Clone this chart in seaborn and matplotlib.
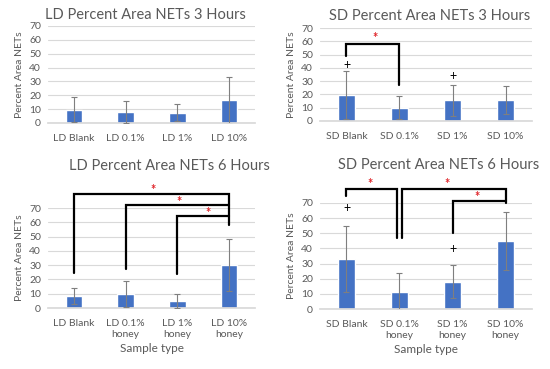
import pandas as pd
import matplotlib
matplotlib.use("Agg")
import matplotlib.pyplot as plt
import seaborn as sns

# values (mean, error)
ld3_labels = ["LD Blank", "LD 0.1%", "LD 1%", "LD 10%"]
ld3_mean = [9.5, 8, 7.5, 16.5]
ld3_err = [9, 8, 6, 17]

sd3_labels = ["SD Blank", "SD 0.1%", "SD 1%", "SD 10%"]
sd3_mean = [19.5, 10, 15.5, 15.5]
sd3_err = [18, 8.5, 11.5, 10.5]

ld6_labels = ["LD Blank", "LD 0.1%\nhoney", "LD 1%\nhoney", "LD 10%\nhoney"]
ld6_mean = [8.5, 10, 5, 30]
ld6_err = [5.5, 9, 5, 18]

sd6_labels = ["SD Blank", "SD 0.1%\nhoney", "SD 1%\nhoney", "SD 10%\nhoney"]
sd6_mean = [33, 11.5, 18, 45]
sd6_err = [22, 12, 11, 19]

# significance brackets: (x_left, x_right, top, left_leg_bottom, right_leg_bottom)
sd3_brackets = [(0, 1, 58, 49, 27)]
sd3_stars = [(0.54, 62.5)]
sd3_plus = [(0, 42), (2, 34)]

ld6_brackets = [(0, 3, 79.7, 24.5, 58), (1, 3, 71.8, 27, 71.8), (2, 3, 64.6, 24, 64.6)]
ld6_stars = [(1.52, 82.5), (2.04, 74.5), (2.6, 66.4)]

sd6_brackets = [(0, 0.95, 79.5, 74.4, 47), (1.05, 3, 79.5, 47, 70), (2, 3, 71.6, 50, 71.6)]
sd6_stars = [(0.44, 82.5), (1.9, 82.5), (2.46, 74)]
sd6_plus = [(0, 67), (2, 39.5)]

BLUE = "#4472C4"
GREY = "#595959"

sns.set_theme(style="white")
plt.rcParams["font.family"] = ["Lato", "DejaVu Sans"]


def draw_panel(fig, rect, labels, means, errs, xlabel=None):
    ax = fig.add_axes(rect)
    df = pd.DataFrame({"sample": labels, "mean": means})
    sns.barplot(data=df, x="sample", y="mean", color=BLUE, width=0.32,
                saturation=1, errorbar=None, ax=ax, zorder=2)
    ax.errorbar(range(len(means)), means, yerr=errs, fmt="none",
                ecolor="#7f7f7f", elinewidth=0.8, capsize=2.5, capthick=0.8, zorder=3)
    ax.set_ylim(0, 70)
    ax.set_yticks(range(0, 71, 10))
    ax.set_xlim(-0.5, 3.5)
    ax.grid(axis="y", color="#d9d9d9", lw=0.8, zorder=0)
    for s in ["top", "right", "left"]:
        ax.spines[s].set_visible(False)
    ax.spines["bottom"].set_color("#d9d9d9")
    ax.tick_params(axis="both", length=0, labelsize=7.5, colors=GREY, pad=5)
    ax.tick_params(axis="x", pad=8)
    ax.set_ylabel("Percent Area NETs", fontsize=7.5, color=GREY, labelpad=4)
    ax.set_xlabel(xlabel if xlabel else "", fontsize=8.5, color=GREY, labelpad=3)
    return ax


def draw_brackets(ax, brackets, stars, plus=()):
    for x0, x1, top, b0, b1 in brackets:
        ax.plot([x0, x0, x1, x1], [b0, top, top, b1], color="black", lw=1.6,
                clip_on=False, zorder=4, solid_joinstyle="miter")
    for x, y in stars:
        ax.text(x, y, "*", color="#e0262b", fontsize=9, ha="center", va="center",
                clip_on=False, fontweight="bold")
    for x, y in plus:
        ax.text(x, y, "+", color="black", fontsize=9, ha="center", va="center")


fig = plt.figure(figsize=(5.5, 3.69), dpi=100)

draw_panel(fig, [0.0873, 0.6667, 0.3764, 0.2629], ld3_labels, ld3_mean, ld3_err)
ax_tr = draw_panel(fig, [0.5818, 0.6721, 0.3855, 0.2520], sd3_labels, sd3_mean, sd3_err)
ax_bl = draw_panel(fig, [0.0873, 0.1653, 0.3764, 0.2710], ld6_labels, ld6_mean, ld6_err,
                   xlabel="Sample type")
ax_br = draw_panel(fig, [0.5818, 0.1626, 0.3855, 0.2873], sd6_labels, sd6_mean, sd6_err,
                   xlabel="Sample type")

draw_brackets(ax_tr, sd3_brackets, sd3_stars, sd3_plus)
draw_brackets(ax_bl, ld6_brackets, ld6_stars)
draw_brackets(ax_br, sd6_brackets, sd6_stars, sd6_plus)

title_kw = dict(fontsize=10.5, color=GREY, ha="center", va="center")
fig.text(145 / 550, 1 - 15 / 369, "LD Percent Area NETs 3 Hours", **title_kw)
fig.text(430 / 550, 1 - 16 / 369, "SD Percent Area NETs 3 Hours", **title_kw)
fig.text(169 / 550, 1 - 166 / 369, "LD Percent Area NETs 6 Hours", **title_kw)
fig.text(439 / 550, 1 - 165 / 369, "SD Percent Area NETs 6 Hours", **title_kw)

fig.savefig("out.png", dpi=100)
